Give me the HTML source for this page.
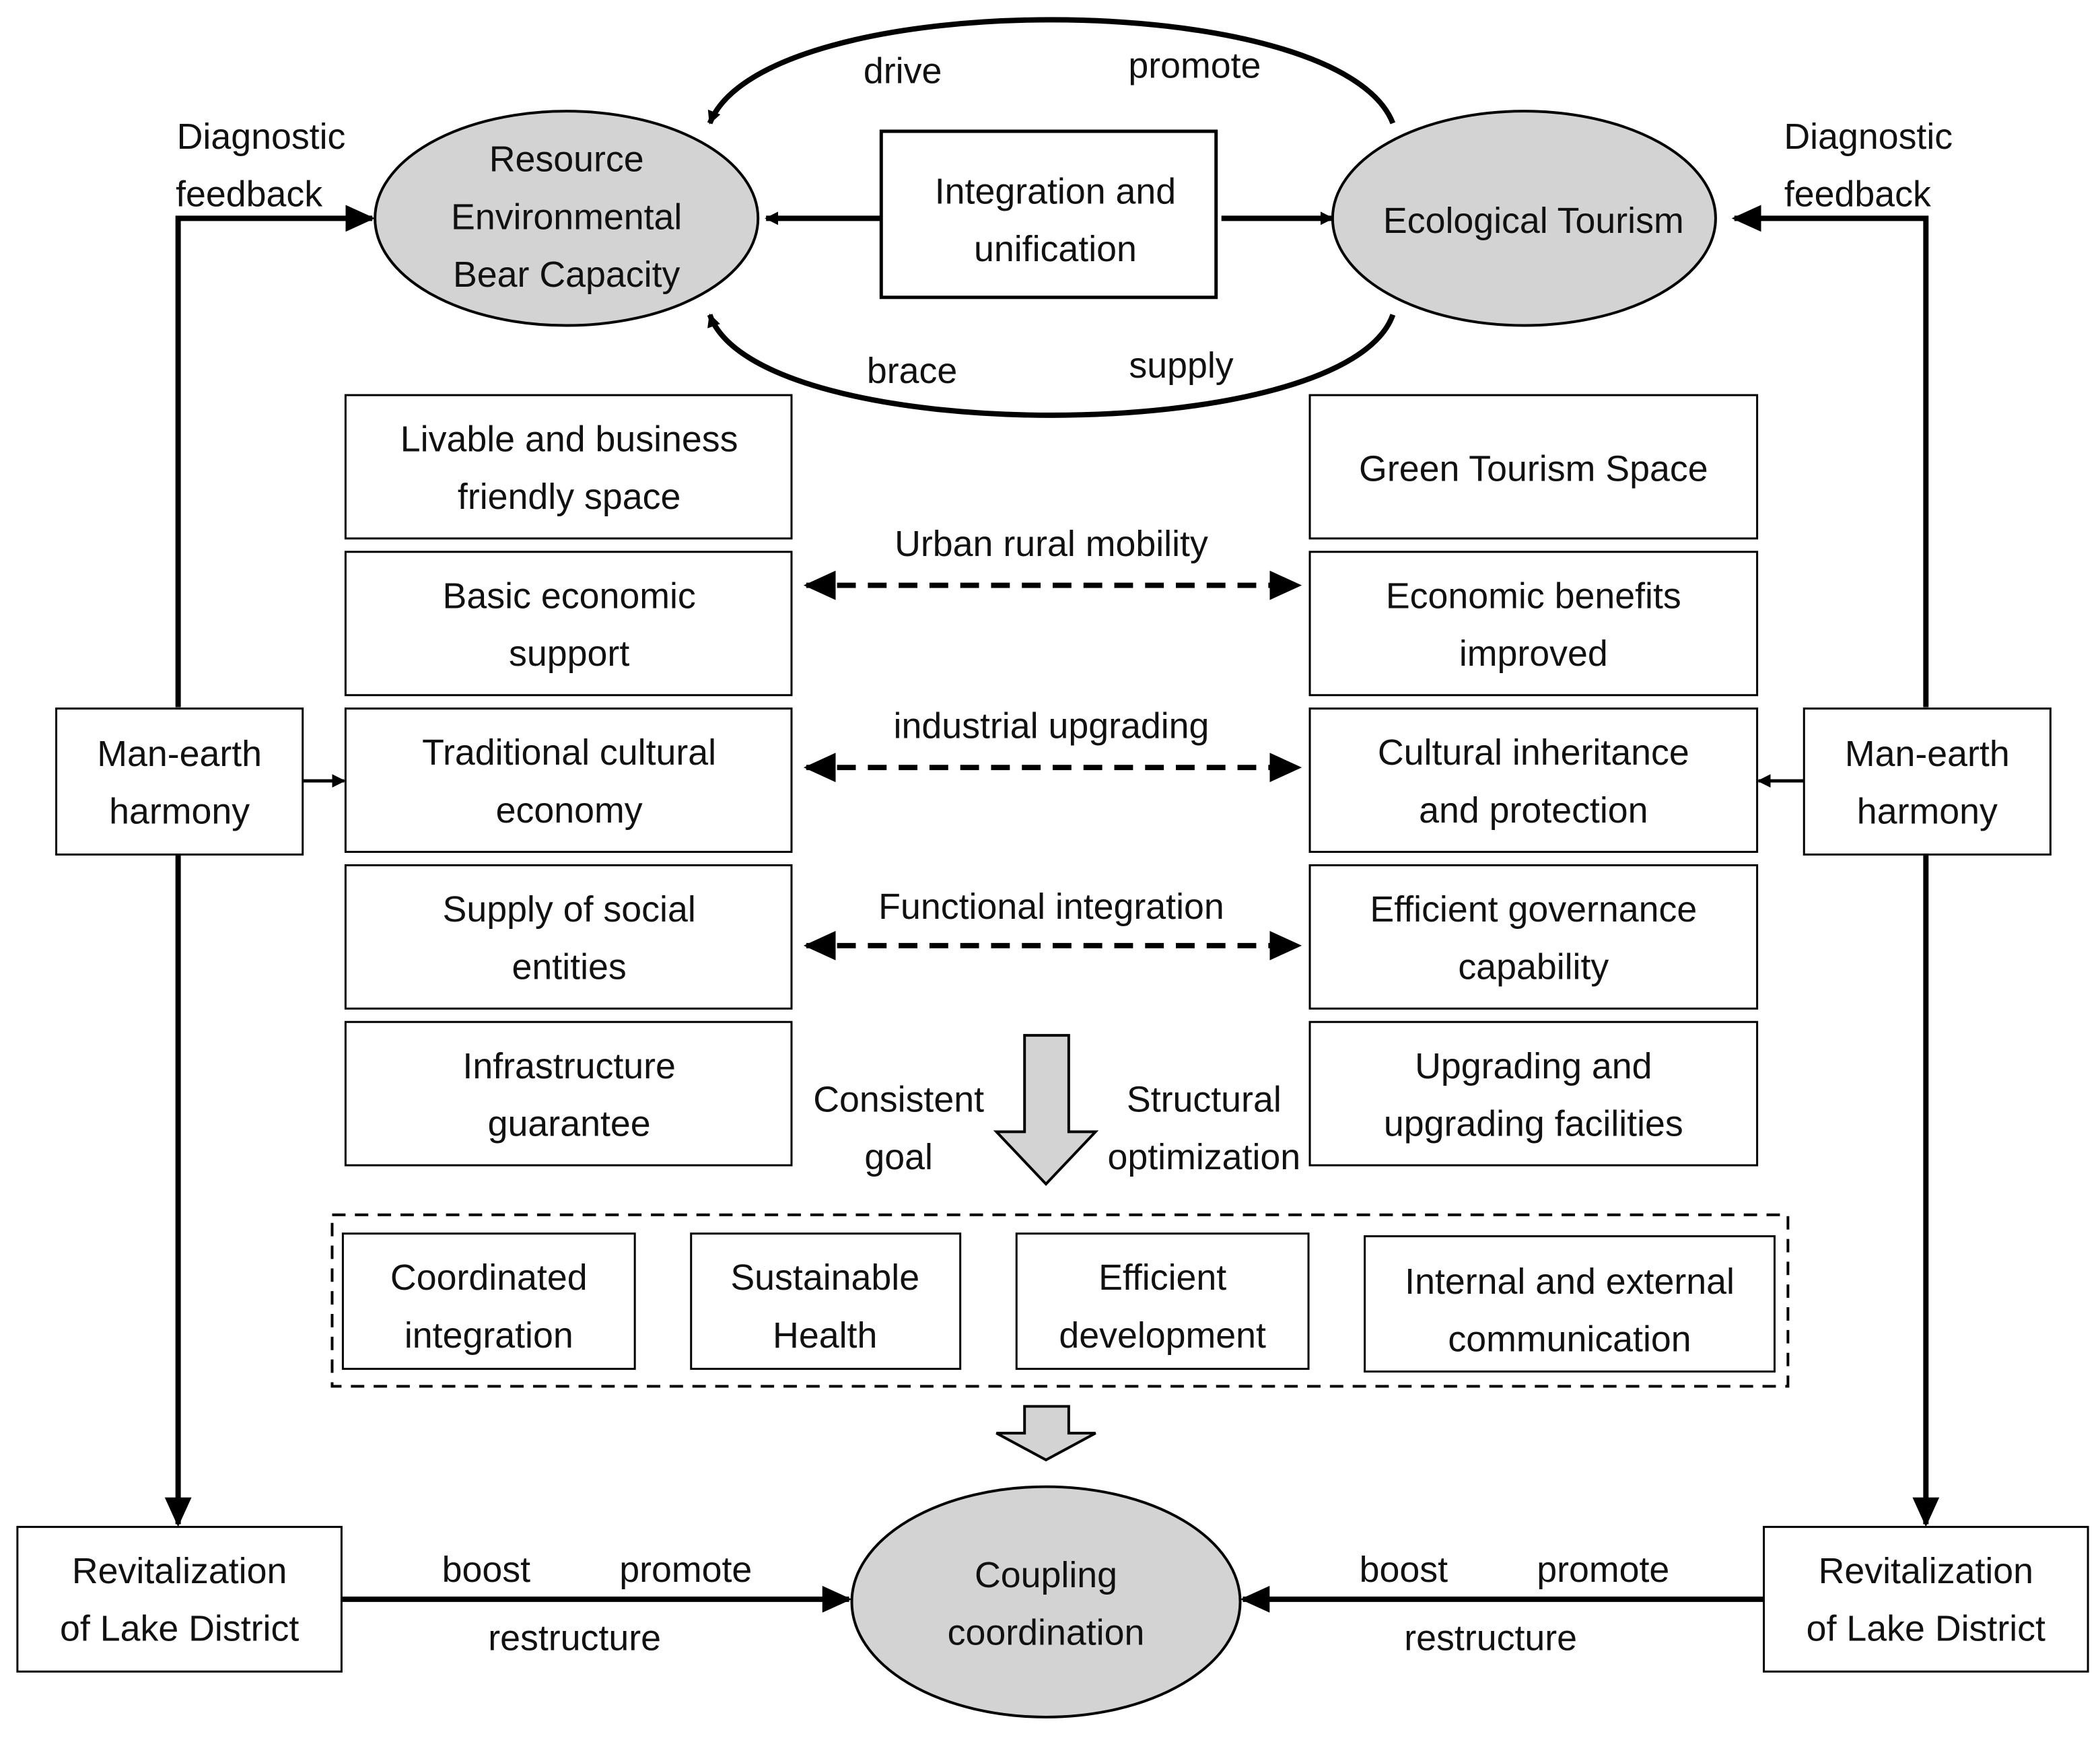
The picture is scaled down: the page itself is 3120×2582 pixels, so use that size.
<!DOCTYPE html>
<html><head><meta charset="utf-8"><style>
html,body{margin:0;padding:0;background:#fff;}
svg{display:block;}
text{font-family:"Liberation Sans","DejaVu Sans",sans-serif;font-size:27px;fill:#111;text-anchor:middle;}
</style></head><body>
<svg width="3120" height="2582" viewBox="0 0 1568 1297.6" xmlns="http://www.w3.org/2000/svg">
<defs>
<marker id="ah" markerWidth="10" markerHeight="10" refX="9" refY="5" orient="auto" markerUnits="userSpaceOnUse" viewBox="0 0 10 10"><path d="M0,0 L10,5 L0,10 z" fill="#000"/></marker>
<marker id="ahb" markerWidth="24" markerHeight="22" refX="22" refY="11" orient="auto-start-reverse" markerUnits="userSpaceOnUse" viewBox="0 0 24 22"><path d="M0,0 L24,11 L0,22 z" fill="#000"/></marker>
<marker id="ahm" markerWidth="22" markerHeight="20" refX="20" refY="10" orient="auto" markerUnits="userSpaceOnUse" viewBox="0 0 22 20"><path d="M0,0 L22,10 L0,20 z" fill="#000"/></marker>
</defs>
<g fill="none" stroke="#000">
<ellipse cx="423" cy="163" rx="143" ry="80" fill="#d4d3d3" stroke-width="2"/>
<ellipse cx="1138" cy="163" rx="143" ry="80" fill="#d4d3d3" stroke-width="2"/>
<rect x="658" y="98" width="250" height="124" fill="#fff" stroke-width="2.5"/>
<line x1="658" y1="163" x2="572" y2="163" stroke-width="4" marker-end="url(#ah)"/>
<line x1="912" y1="163" x2="995" y2="163" stroke-width="4" marker-end="url(#ah)"/>
<path d="M1040,92 C1000,-11 570,-11 530,92" stroke-width="4" marker-end="url(#ah)"/>
<path d="M1040,235 C1005,335 565,335 530,235" stroke-width="4" marker-end="url(#ah)"/>
<polyline points="133,528 133,163 278,163" stroke-width="4" marker-end="url(#ahm)"/>
<line x1="133" y1="638" x2="133" y2="1138" stroke-width="4" marker-end="url(#ahm)"/>
<polyline points="1438,528 1438,163 1295,163" stroke-width="4" marker-end="url(#ahm)"/>
<line x1="1438" y1="638" x2="1438" y2="1138" stroke-width="4" marker-end="url(#ahm)"/>
<rect x="42" y="529" width="184" height="109" fill="#fff" stroke-width="1.5"/>
<rect x="1347" y="529" width="184" height="109" fill="#fff" stroke-width="1.5"/>
<line x1="226" y1="583" x2="257" y2="583" stroke-width="2.5" marker-end="url(#ah)"/>
<line x1="1347" y1="583" x2="1313" y2="583" stroke-width="2.5" marker-end="url(#ah)"/>
<g stroke-width="1.5" fill="#fff">
<rect x="258" y="295" width="333" height="107"/><rect x="258" y="412" width="333" height="107"/>
<rect x="258" y="529" width="333" height="107"/><rect x="258" y="646" width="333" height="107"/>
<rect x="258" y="763" width="333" height="107"/>
<rect x="978" y="295" width="334" height="107"/><rect x="978" y="412" width="334" height="107"/>
<rect x="978" y="529" width="334" height="107"/><rect x="978" y="646" width="334" height="107"/>
<rect x="978" y="763" width="334" height="107"/>
</g>
<g stroke-width="4" stroke-dasharray="14,9">
<line x1="602" y1="437" x2="970" y2="437" marker-start="url(#ahb)" marker-end="url(#ahb)"/>
<line x1="602" y1="573" x2="970" y2="573" marker-start="url(#ahb)" marker-end="url(#ahb)"/>
<line x1="602" y1="706" x2="970" y2="706" marker-start="url(#ahb)" marker-end="url(#ahb)"/>
</g>
<path d="M765,773 L798,773 L798,845 L818,845 L781,884 L744,845 L765,845 Z" fill="#d4d3d3" stroke-width="2"/>
<path d="M765,1050 L798,1050 L798,1070 L818,1070 L781,1090 L744,1070 L765,1070 Z" fill="#d4d3d3" stroke-width="2"/>
<rect x="248" y="907" width="1087" height="128" stroke-width="2" stroke-dasharray="10,7"/>
<g stroke-width="1.5" fill="#fff">
<rect x="256" y="921" width="218" height="101"/><rect x="516" y="921" width="201" height="101"/>
<rect x="759" y="921" width="218" height="101"/><rect x="1019" y="923" width="306" height="101"/>
</g>
<ellipse cx="781" cy="1196" rx="145" ry="86" fill="#d4d3d3" stroke-width="2"/>
<rect x="13" y="1140" width="242" height="108" fill="#fff" stroke-width="1.5"/>
<rect x="1317" y="1140" width="242" height="108" fill="#fff" stroke-width="1.5"/>
<line x1="255" y1="1194" x2="634" y2="1194" stroke-width="4" marker-end="url(#ahm)"/>
<line x1="1317" y1="1194" x2="928" y2="1194" stroke-width="4" marker-end="url(#ahm)"/>
</g>
<g>
<text x="423" y="128">Resource</text><text x="423" y="171">Environmental</text><text x="423" y="214">Bear Capacity</text>
<text x="1145" y="174">Ecological Tourism</text>
<text x="788" y="152">Integration and</text><text x="788" y="195">unification</text>
<text x="674" y="62">drive</text><text x="892" y="58">promote</text>
<text x="681" y="286">brace</text><text x="882" y="282">supply</text>
<text x="195" y="111">Diagnostic</text><text x="186" y="154">feedback</text>
<text x="1395" y="111">Diagnostic</text><text x="1387" y="154">feedback</text>
<text x="134" y="572">Man-earth</text><text x="134" y="615">harmony</text>
<text x="1439" y="572">Man-earth</text><text x="1439" y="615">harmony</text>
<text x="425" y="337">Livable and business</text><text x="425" y="380">friendly space</text>
<text x="425" y="454">Basic economic</text><text x="425" y="497">support</text>
<text x="425" y="571">Traditional cultural</text><text x="425" y="614">economy</text>
<text x="425" y="688">Supply of social</text><text x="425" y="731">entities</text>
<text x="425" y="805">Infrastructure</text><text x="425" y="848">guarantee</text>
<text x="1145" y="359">Green Tourism Space</text>
<text x="1145" y="454">Economic benefits</text><text x="1145" y="497">improved</text>
<text x="1145" y="571">Cultural inheritance</text><text x="1145" y="614">and protection</text>
<text x="1145" y="688">Efficient governance</text><text x="1145" y="731">capability</text>
<text x="1145" y="805">Upgrading and</text><text x="1145" y="848">upgrading facilities</text>
<text x="785" y="415">Urban rural mobility</text>
<text x="785" y="551">industrial upgrading</text>
<text x="785" y="686">Functional integration</text>
<text x="671" y="830">Consistent</text><text x="671" y="873">goal</text>
<text x="899" y="830">Structural</text><text x="899" y="873">optimization</text>
<text x="365" y="963">Coordinated</text><text x="365" y="1006">integration</text>
<text x="616" y="963">Sustainable</text><text x="616" y="1006">Health</text>
<text x="868" y="963">Efficient</text><text x="868" y="1006">development</text>
<text x="1172" y="966">Internal and external</text><text x="1172" y="1009">communication</text>
<text x="781" y="1185">Coupling</text><text x="781" y="1228">coordination</text>
<text x="134" y="1182">Revitalization</text><text x="134" y="1225">of Lake District</text>
<text x="1438" y="1182">Revitalization</text><text x="1438" y="1225">of Lake District</text>
<text x="363" y="1181">boost</text><text x="512" y="1181">promote</text><text x="429" y="1232">restructure</text>
<text x="1048" y="1181">boost</text><text x="1197" y="1181">promote</text><text x="1113" y="1232">restructure</text>
</g>
</svg>
</body></html>
